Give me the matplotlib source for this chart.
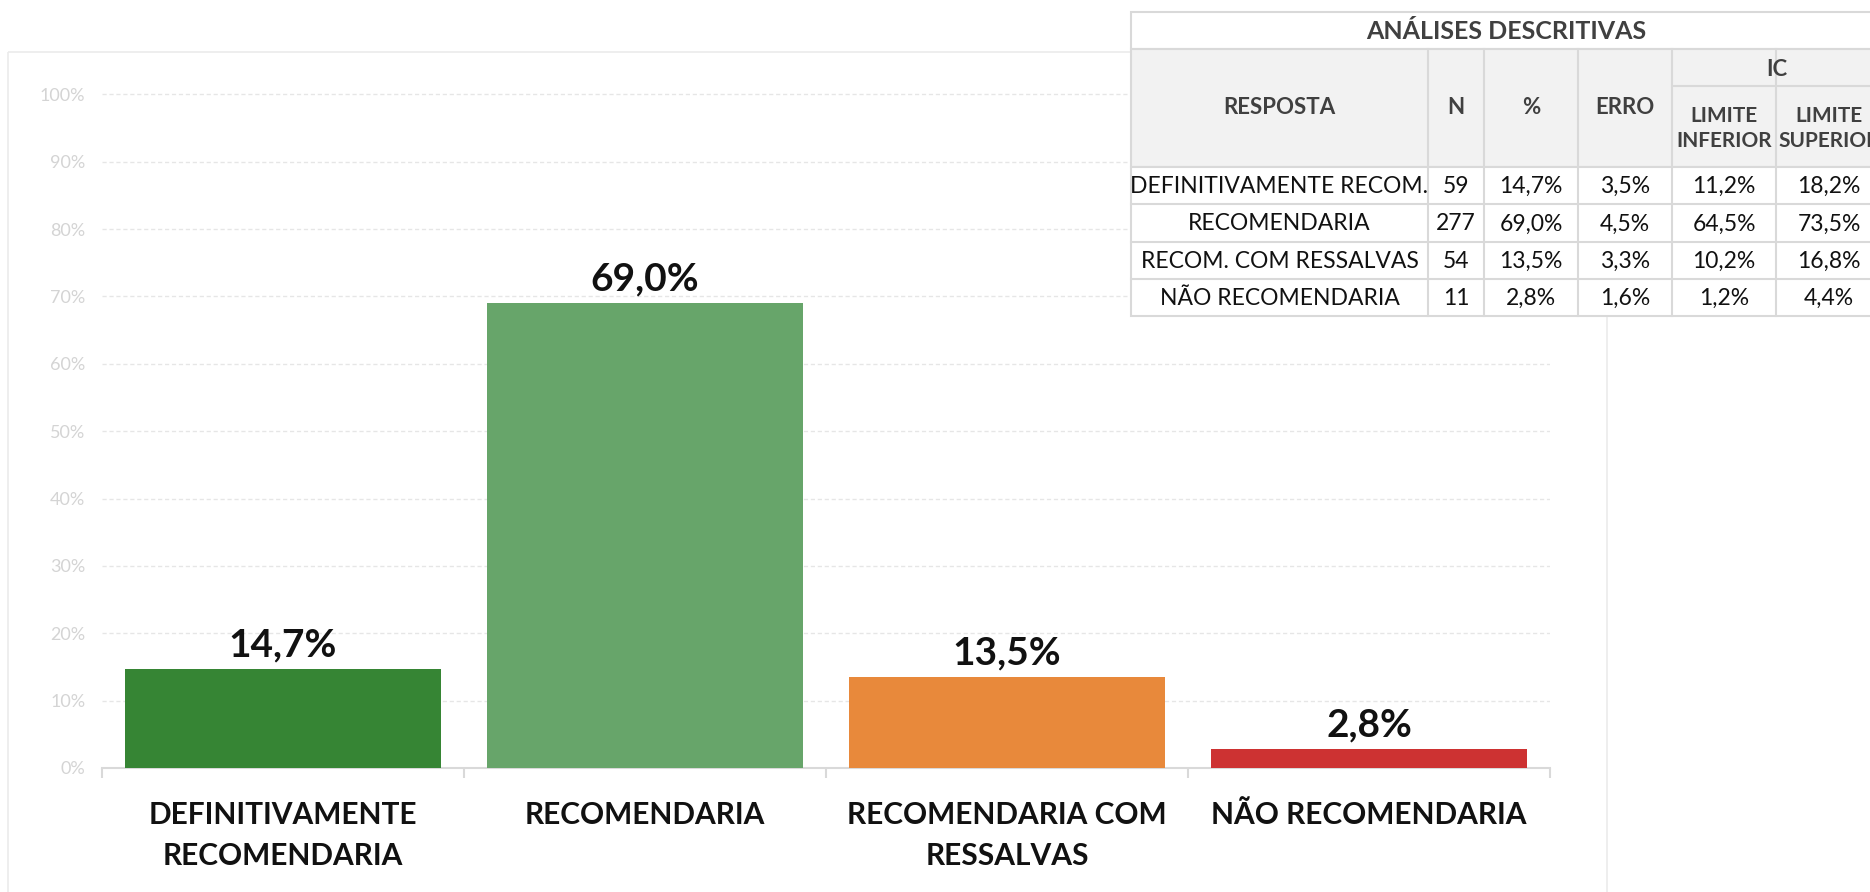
import matplotlib
matplotlib.use("Agg")
import matplotlib.pyplot as plt
from matplotlib.patches import Rectangle

plt.rcParams['font.family'] = ['Lato', 'DejaVu Sans']

# dados do grafico
categorias = ['DEFINITIVAMENTE\nRECOMENDARIA', 'RECOMENDARIA',
              'RECOMENDARIA COM\nRESSALVAS', 'NÃO RECOMENDARIA']
percentuais = [14.7, 69.0, 13.5, 2.8]
cores = ['#368534', '#67A56A', '#E8893B', '#CD3232']
yticks = [0, 10, 20, 30, 40, 50, 60, 70, 80, 90, 100]

# dados da tabela
tab_resposta = ['DEFINITIVAMENTE RECOM.', 'RECOMENDARIA', 'RECOM. COM RESSALVAS', 'NÃO RECOMENDARIA']
tab_n = [59, 277, 54, 11]
tab_pct = [14.7, 69.0, 13.5, 2.8]
tab_erro = [3.5, 4.5, 3.3, 1.6]
tab_lim_inf = [11.2, 64.5, 10.2, 1.2]
tab_lim_sup = [18.2, 73.5, 16.8, 4.4]


def fmt(v):
    return f"{v:.1f}%".replace('.', ',')


W, H = 1870, 892
fig = plt.figure(figsize=(W / 100, H / 100), dpi=100)

# eixo principal (posicoes em pixels)
x0, x1 = 102, 1550
y0, y100 = 768, 93
ax = fig.add_axes([x0 / W, (H - y0) / H, (x1 - x0) / W, (y0 - y100) / H])

pos = list(range(len(categorias)))
ax.bar(pos, percentuais, width=0.873, color=cores, zorder=3)
ax.set_xlim(-0.5, len(categorias) - 0.5)
ax.set_ylim(0, 100.2)

for p, v in zip(pos, percentuais):
    ax.annotate(fmt(v), (p, v), xytext=(0, 5), textcoords='offset points',
                ha='center', va='bottom', fontsize=28, fontweight='bold', color='#111111')

ax.set_yticks(yticks)
ax.set_yticklabels([f"{t}%" for t in yticks], fontsize=13, color='#D4D4D4')
ax.tick_params(axis='y', length=0, pad=12)
ax.grid(axis='y', color='#E6E6E6', linestyle=(0, (3, 2)), linewidth=1, zorder=0)

ax.set_xticks(pos)
ax.set_xticklabels(categorias, fontsize=21.5, fontweight='bold', color='#111111',
                   linespacing=1.55)
ax.tick_params(axis='x', length=0, pad=24)
ax.set_xticks([p - 0.5 for p in range(len(categorias) + 1)], minor=True)
ax.tick_params(axis='x', which='minor', length=7, width=1.5, color='#D9D9D9')

for s in ['top', 'right', 'left']:
    ax.spines[s].set_visible(False)
ax.spines['bottom'].set_color('#D9D9D9')
ax.spines['bottom'].set_linewidth(1.5)
ax.set_facecolor('none')

# camada em pixels para moldura e tabela
ov = fig.add_axes([0, 0, 1, 1])
ov.set_xlim(0, W)
ov.set_ylim(H, 0)
ov.axis('off')

ov.add_patch(Rectangle((8, 52), 1607 - 8, 900, fill=False, edgecolor='#EBEBEB', linewidth=1.2))

# tabela
cols = [1131, 1428, 1484, 1578, 1672, 1776, 1882]
r_title, r_head, r_sub, r_body = 12, 49, 86, 167
row_h = 37.3
borda = '#D9D9D9'
cab = '#404040'

ov.add_patch(Rectangle((cols[0], r_title), cols[-1] - cols[0], r_head - r_title,
                       facecolor='white', edgecolor=borda, linewidth=1.5, zorder=5))
ov.add_patch(Rectangle((cols[0], r_head), cols[-1] - cols[0], r_body - r_head,
                       facecolor='#F2F2F2', edgecolor=borda, linewidth=1.5, zorder=5))
n_rows = len(tab_resposta)
ov.add_patch(Rectangle((cols[0], r_body), cols[-1] - cols[0], row_h * n_rows,
                       facecolor='white', edgecolor=borda, linewidth=1.5, zorder=5))

for c in cols[1:-1]:
    ov.plot([c, c], [r_head, r_body + row_h * n_rows], color=borda, lw=1.5, zorder=6)
ov.plot([cols[4], cols[-1]], [r_sub, r_sub], color=borda, lw=1.5, zorder=6)
for i in range(1, n_rows):
    y = r_body + row_h * i
    ov.plot([cols[0], cols[-1]], [y, y], color=borda, lw=1.5, zorder=6)

ov.text((cols[0] + cols[-1]) / 2, (r_title + r_head) / 2 + 1, 'ANÁLISES DESCRITIVAS',
        ha='center', va='center', fontsize=18, fontweight='bold', color=cab, zorder=7)
hy = (r_head + r_body) / 2
for j, lab in enumerate(['RESPOSTA', 'N', '%', 'ERRO']):
    ov.text((cols[j] + cols[j + 1]) / 2, hy, lab, ha='center', va='center',
            fontsize=16, fontweight='bold', color=cab, zorder=7)
ov.text((cols[4] + cols[6]) / 2, (r_head + r_sub) / 2 + 2, 'IC', ha='center', va='center',
        fontsize=16, fontweight='bold', color=cab, zorder=7)
for j, lab in zip([4, 5], ['LIMITE\nINFERIOR', 'LIMITE\nSUPERIOR']):
    ov.text((cols[j] + cols[j + 1]) / 2, (r_sub + r_body) / 2 + 2, lab, ha='center', va='center',
            fontsize=15, fontweight='bold', color=cab, linespacing=1.35, zorder=7)

for i in range(n_rows):
    cy = r_body + row_h * (i + 0.5) + 1
    vals = [tab_resposta[i], str(tab_n[i]), fmt(tab_pct[i]), fmt(tab_erro[i]),
            fmt(tab_lim_inf[i]), fmt(tab_lim_sup[i])]
    for j, t in enumerate(vals):
        ov.text((cols[j] + cols[j + 1]) / 2, cy, t, ha='center', va='center',
                fontsize=16.5, color='#111111', zorder=7)

fig.savefig('out.png', dpi=100, facecolor='white')
